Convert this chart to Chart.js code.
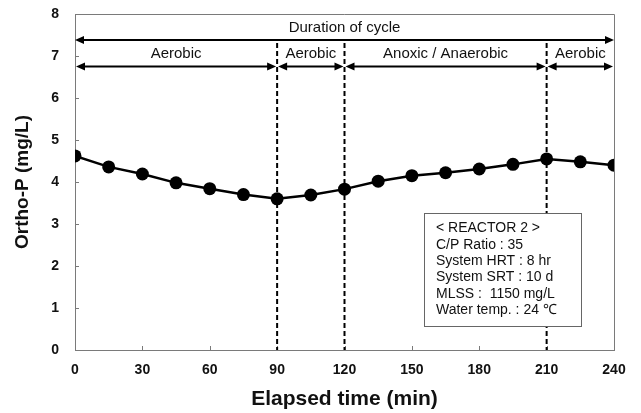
<!DOCTYPE html>
<html>
<head>
<meta charset="utf-8">
<script src="https://cdn.jsdelivr.net/npm/chart.js@4.4.1/dist/chart.umd.min.js"></script>
<style>
html,body{margin:0;padding:0;background:#fff;}
#wrap{width:641px;height:413px;position:relative;}
</style>
</head>
<body>
<div id="wrap"><canvas id="c" width="641" height="413"></canvas></div>
<script>
const times = [0,15,30,45,60,75,90,105,120,135,150,165,180,195,210,225,240];
const orthoP = [4.62,4.36,4.19,3.98,3.84,3.70,3.60,3.69,3.83,4.02,4.15,4.22,4.31,4.42,4.55,4.48,4.40];
const phaseBounds = [0,90,120,210,240];
const phaseLabels = ['Aerobic','Aerobic','Anoxic / Anaerobic','Aerobic'];
const dashedAt = [90,120,210];
const cycleLabel = 'Duration of cycle';
const cycleArrowY = 7.38;
const phaseArrowY = 6.75;
const infoLines = ['< REACTOR 2 >','C/P Ratio : 35','System HRT : 8 hr','System SRT : 10 d','MLSS :  1150 mg/L','Water temp. : 24 \u2103'];
const xTicks = [0,30,60,90,120,150,180,210,240];
const yTicks = [0,1,2,3,4,5,6,7,8];

const FONT = '"Liberation Sans", Arial, sans-serif';
const GRAY = '#7a7a7a';

function arrowHead(ctx, x, y, dir) {
  const L = 9, W = 4;
  ctx.beginPath();
  ctx.moveTo(x, y);
  ctx.lineTo(x - dir * L, y - W);
  ctx.lineTo(x - dir * L, y + W);
  ctx.closePath();
  ctx.fill();
}
function dblArrow(ctx, x1, x2, y) {
  ctx.beginPath();
  ctx.moveTo(x1 + 4, y);
  ctx.lineTo(x2 - 4, y);
  ctx.stroke();
  arrowHead(ctx, x1, y, -1);
  arrowHead(ctx, x2, y, 1);
}

const annot = {
  id: 'annot',
  beforeDatasetsDraw(chart) {
    const ctx = chart.ctx, xs = chart.scales.x, ys = chart.scales.y;
    const a = chart.chartArea;
    ctx.save();
    ctx.strokeStyle = GRAY; ctx.lineWidth = 1;
    ctx.beginPath();
    ctx.moveTo(a.left, a.top + 0.5); ctx.lineTo(a.right + 0.5, a.top + 0.5); ctx.lineTo(a.right + 0.5, a.bottom);
    ctx.stroke();
    ctx.beginPath();
    xTicks.forEach(v => { const x = Math.round(xs.getPixelForValue(v)) + 0.5; ctx.moveTo(x, a.bottom); ctx.lineTo(x, a.bottom - 4); });
    yTicks.forEach(v => { const y = Math.round(ys.getPixelForValue(v)) + 0.5; ctx.moveTo(a.left, y); ctx.lineTo(a.left + 4, y); });
    ctx.stroke();
    ctx.strokeStyle = '#000'; ctx.lineWidth = 2; ctx.setLineDash([5, 3]);
    dashedAt.forEach(v => {
      const x = xs.getPixelForValue(v);
      ctx.beginPath(); ctx.moveTo(x, ys.getPixelForValue(cycleArrowY) + 3); ctx.lineTo(x, a.bottom); ctx.stroke();
    });
    ctx.restore();
  },
  afterDatasetsDraw(chart) {
    const ctx = chart.ctx, xs = chart.scales.x, ys = chart.scales.y;
    ctx.save();
    ctx.strokeStyle = '#000'; ctx.fillStyle = '#000'; ctx.lineWidth = 2;
    const yc = ys.getPixelForValue(cycleArrowY);
    dblArrow(ctx, xs.getPixelForValue(0), xs.getPixelForValue(240), yc);
    const yp = ys.getPixelForValue(phaseArrowY);
    ctx.font = '15px ' + FONT; ctx.textAlign = 'center'; ctx.textBaseline = 'middle';
    for (let i = 0; i < phaseLabels.length; i++) {
      const x1 = xs.getPixelForValue(phaseBounds[i]), x2 = xs.getPixelForValue(phaseBounds[i + 1]);
      ctx.fillStyle = '#000';
      dblArrow(ctx, x1 + 1, x2 - 1, yp);
      ctx.fillStyle = '#111';
      ctx.fillText(phaseLabels[i], (x1 + x2) / 2, yp - 13);
    }
    ctx.fillText(cycleLabel, (xs.getPixelForValue(0) + xs.getPixelForValue(240)) / 2, yc - 12);
    const bx1 = xs.getPixelForValue(155.4), bx2 = xs.getPixelForValue(225.3);
    const by1 = ys.getPixelForValue(3.26), by2 = ys.getPixelForValue(0.57);
    ctx.fillStyle = '#fff'; ctx.fillRect(bx1, by1, bx2 - bx1, by2 - by1);
    ctx.strokeStyle = '#666'; ctx.lineWidth = 1;
    ctx.strokeRect(Math.round(bx1) + 0.5, Math.round(by1) + 0.5, Math.round(bx2 - bx1), Math.round(by2 - by1));
    ctx.fillStyle = '#111'; ctx.textAlign = 'left'; ctx.font = '14px ' + FONT;
    infoLines.forEach((t, i) => ctx.fillText(t, bx1 + 12, by1 + 15.5 + i * 16.3));
    ctx.restore();
  }
};

new Chart(document.getElementById('c'), {
  type: 'line',
  data: {
    datasets: [{
      data: times.map((t, i) => ({x: t, y: orthoP[i]})),
      borderColor: '#000', backgroundColor: '#000', borderWidth: 2.5,
      pointRadius: 6.5, pointHoverRadius: 6.5, pointBackgroundColor: '#000', pointBorderWidth: 0,
      tension: 0, fill: false
    }]
  },
  options: {
    responsive: false, animation: false, devicePixelRatio: 1,
    layout: {padding: {top: 14, right: 27, left: 0, bottom: 0}},
    plugins: {legend: {display: false}, tooltip: {enabled: false}},
    scales: {
      x: {
        type: 'linear', min: 0, max: 240,
        afterBuildTicks: s => { s.ticks = xTicks.map(v => ({value: v})); },
        afterFit: s => { s.height = 63; s.paddingLeft = 0; s.paddingRight = 0; },
        grid: {display: false, drawTicks: false},
        border: {display: true, color: GRAY, width: 1},
        ticks: {padding: 12, color: '#111', font: {family: FONT, size: 14, weight: 'bold'}, maxRotation: 0},
        title: {display: true, text: 'Elapsed time (min)', color: '#111', font: {family: FONT, size: 21, weight: 'bold'}, padding: {top: 0, bottom: 1}}
      },
      y: {
        min: 0, max: 8,
        afterBuildTicks: s => { s.ticks = yTicks.map(v => ({value: v})); },
        afterFit: s => { s.width = 75; s.paddingTop = 0; s.paddingBottom = 0; },
        grid: {display: false, drawTicks: false},
        border: {display: true, color: GRAY, width: 1},
        ticks: {padding: 16, color: '#111', font: {family: FONT, size: 14, weight: 'bold'}},
        title: {display: true, text: 'Ortho-P (mg/L)', color: '#111', font: {family: FONT, size: 19, weight: 'bold'}, padding: {top: 11, bottom: 0}}
      }
    }
  },
  plugins: [annot]
});
</script>
</body>
</html>
